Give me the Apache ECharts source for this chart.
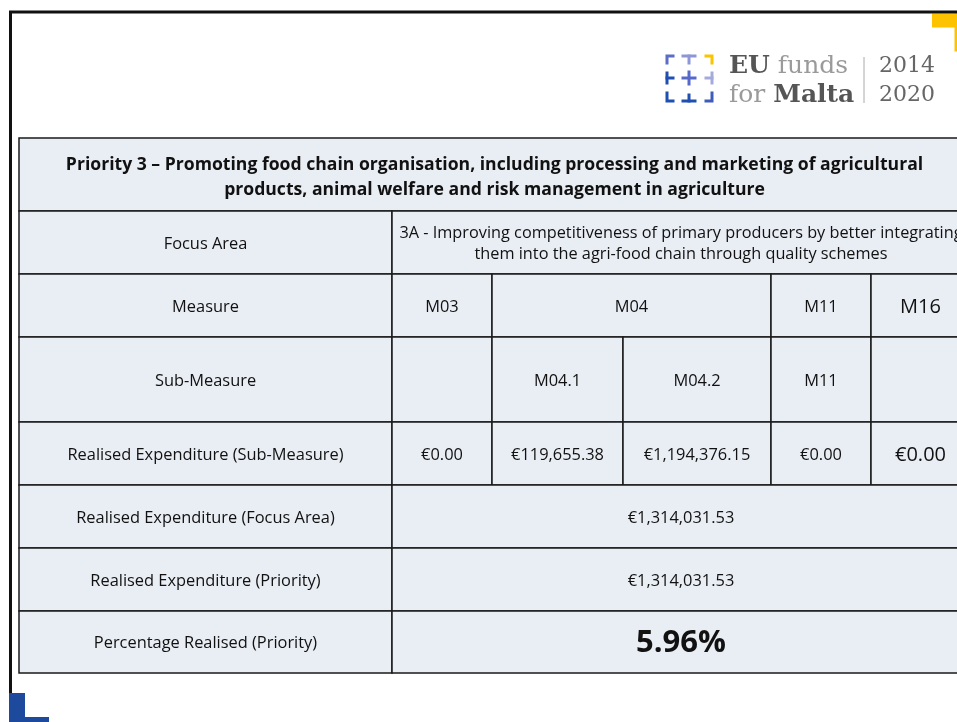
<!DOCTYPE html>
<html>
<head>
<meta charset="utf-8">
<script src="https://cdn.jsdelivr.net/npm/echarts@6/dist/echarts.min.js"></script>
<style>
  html, body { margin: 0; padding: 0; background: #fff; }
  #main { width: 957px; height: 722px; }
</style>
</head>
<body>
<div id="main"></div>
<script>
// table content
var titleLines = [
  'Priority 3 – Promoting food chain organisation, including processing and marketing of agricultural',
  'products, animal welfare and risk management in agriculture'
];
var rowLabels = [
  'Focus Area',
  'Measure',
  'Sub-Measure',
  'Realised Expenditure (Sub-Measure)',
  'Realised Expenditure (Focus Area)',
  'Realised Expenditure (Priority)',
  'Percentage Realised (Priority)'
];
var focusAreaLines = [
  '3A - Improving competitiveness of primary producers by better integrating',
  'them into the agri-food chain through quality schemes'
];
var measures = ['M03', 'M04', 'M11', 'M16'];
var measureSpans = [1, 2, 1, 1];
var subMeasures = ['', 'M04.1', 'M04.2', 'M11', ''];
var subExpenditure = [0, 119655.38, 1194376.15, 0, 0];
var focusAreaExpenditure = 1314031.53;
var priorityExpenditure = 1314031.53;
var percentageRealised = 5.96;

// layout (pixels)
var colEdges = [19, 392, 492, 623, 771, 871, 970];
var rowEdges = [138, 211, 274, 337, 422, 485, 548, 611, 673];

var FONT = '"Open Sans", "Noto Sans", sans-serif';
var CELL_FILL = '#e9edf4';

function euro(v) {
  return '€' + v.toLocaleString('en-US', {minimumFractionDigits: 2, maximumFractionDigits: 2});
}
function $each(arr, fn) {
  for (var i = 0; i < arr.length; i++) fn(i, arr[i]);
}

/**
 * build cells list from the data
 */
function buildCells() {
  var cells = [];
  function add(c0, c1, r0, r1, text, size, bold, lh) {
    cells.push({c0: c0, c1: c1, r0: r0, r1: r1, text: text, size: size || 16, bold: !!bold, lh: lh});
  }
  add(0, 6, 0, 1, titleLines.join('\n'), 17.6, true, 25);
  $each(rowLabels, function (i, lab) {
    add(0, 1, i + 1, i + 2, lab, 16.4);
  });
  add(1, 6, 1, 2, focusAreaLines.join('\n'), 16.3, false, 21);
  var c = 1;
  $each(measures, function (i, m) {
    var last = i === measures.length - 1;
    add(c, c + measureSpans[i], 2, 3, m, last ? 20 : 16.4);
    c += measureSpans[i];
  });
  $each(subMeasures, function (i, s) {
    add(i + 1, i + 2, 3, 4, s, 16.4);
  });
  $each(subExpenditure, function (i, v) {
    var last = i === subExpenditure.length - 1;
    add(i + 1, i + 2, 4, 5, euro(v), last ? 20 : 16.4);
  });
  add(1, 6, 5, 6, euro(focusAreaExpenditure), 16.4);
  add(1, 6, 6, 7, euro(priorityExpenditure), 16.4);
  add(1, 6, 7, 8, percentageRealised.toFixed(2) + '%', 31, true);
  return cells;
}

var cells = buildCells();

// logo marks: [points, color]
var logoMarks = [
  [[[667, 63], [667, 56], [673, 56]], '#5b6dc4'],
  [[[683, 56], [695, 56]], '#8e97d6'], [[[689, 56], [689, 63]], '#8e97d6'],
  [[[706, 56], [712, 56], [712, 63]], '#fdc300'],
  [[[667, 73], [667, 83]], '#1f4fb0'], [[[667, 78], [673, 78]], '#1f4fb0'],
  [[[683, 78], [695, 78]], '#5669c8'], [[[689, 72], [689, 84]], '#5669c8'],
  [[[712, 73], [712, 83]], '#a4aadb'], [[[706, 78], [712, 78]], '#a4aadb'],
  [[[667, 93], [667, 101], [673, 101]], '#1f4fb0'],
  [[[683, 101], [695, 101]], '#1f4fb0'], [[[689, 95], [689, 101]], '#1f4fb0'],
  [[[712, 93], [712, 101], [706, 101]], '#3f5cb8']
];

var logoRich = {
  b: {font: 'bold 25px "DejaVu Serif", serif', fill: '#555'},
  n: {font: '25px "DejaVu Serif", serif', fill: '#9a9a9a'}
};

var graphics = [
  // page frame
  {type: 'polyline', shape: {points: [[10.5, 722], [10.5, 12], [957, 12]]},
    style: {stroke: '#111', lineWidth: 3, fill: null}, z: 10},
  {type: 'rect', shape: {x: 932, y: 13.5, width: 25, height: 14}, style: {fill: '#fdc300'}, z: 9},
  {type: 'rect', shape: {x: 954.5, y: 13.5, width: 3, height: 38}, style: {fill: '#fdc300'}, z: 9},
  {type: 'rect', shape: {x: 9, y: 693, width: 16, height: 29}, style: {fill: '#1d4a9c'}, z: 11},
  {type: 'rect', shape: {x: 9, y: 717, width: 40, height: 5}, style: {fill: '#1d4a9c'}, z: 11},
  // logo text
  {type: 'text', x: 729, y: 79, style: {
    text: '{b|EU}{n| funds}', textVerticalAlign: 'bottom', rich: logoRich
  }},
  {type: 'text', x: 729, y: 108, style: {
    text: '{n|for }{b|Malta}', textVerticalAlign: 'bottom', rich: logoRich
  }},
  {type: 'line', shape: {x1: 864, y1: 57, x2: 864, y2: 103}, style: {stroke: '#aaa', lineWidth: 1}},
  {type: 'text', x: 879, y: 77, style: {text: '2014', font: '22px "DejaVu Serif", serif', fill: '#666', textVerticalAlign: 'bottom'}},
  {type: 'text', x: 879, y: 106, style: {text: '2020', font: '22px "DejaVu Serif", serif', fill: '#666', textVerticalAlign: 'bottom'}}
];
$each(logoMarks, function (i, m) {
  graphics.push({type: 'polyline', shape: {points: m[0]},
    style: {stroke: m[1], lineWidth: 3, fill: null, lineCap: 'square'}});
});

var myChart = echarts.init(document.getElementById('main'));
var option = {
  animation: false,
  backgroundColor: '#fff',
  grid: {left: 0, right: 0, top: 0, bottom: 0},
  xAxis: {type: 'value', min: 0, max: 957, show: false},
  yAxis: {type: 'value', min: 0, max: 722, inverse: true, show: false},
  graphic: graphics,
  series: [{
    type: 'custom',
    clip: false,
    data: cells.map(function (c, i) { return [i]; }),
    renderItem: function (params, api) {
      var c = cells[params.dataIndex];
      var p0 = api.coord([colEdges[c.c0], rowEdges[c.r0]]);
      var p1 = api.coord([colEdges[c.c1], rowEdges[c.r1]]);
      return {
        type: 'group',
        children: [{
          type: 'rect',
          shape: {x: p0[0], y: p0[1], width: p1[0] - p0[0], height: p1[1] - p0[1]},
          style: {fill: CELL_FILL, stroke: '#1a1a1a', lineWidth: 1.5}
        }, {
          type: 'text',
          style: {
            x: (p0[0] + p1[0]) / 2, y: (p0[1] + p1[1]) / 2 + (c.r0 === 0 ? 2.5 : 1.5),
            text: c.text, align: 'center', verticalAlign: 'middle',
            font: (c.bold ? 'bold ' : '') + c.size + 'px ' + FONT,
            fill: '#111', lineHeight: c.lh || Math.round(c.size * 1.3)
          }
        }]
      };
    }
  }]
};
myChart.setOption(option, true);
</script>
</body>
</html>
